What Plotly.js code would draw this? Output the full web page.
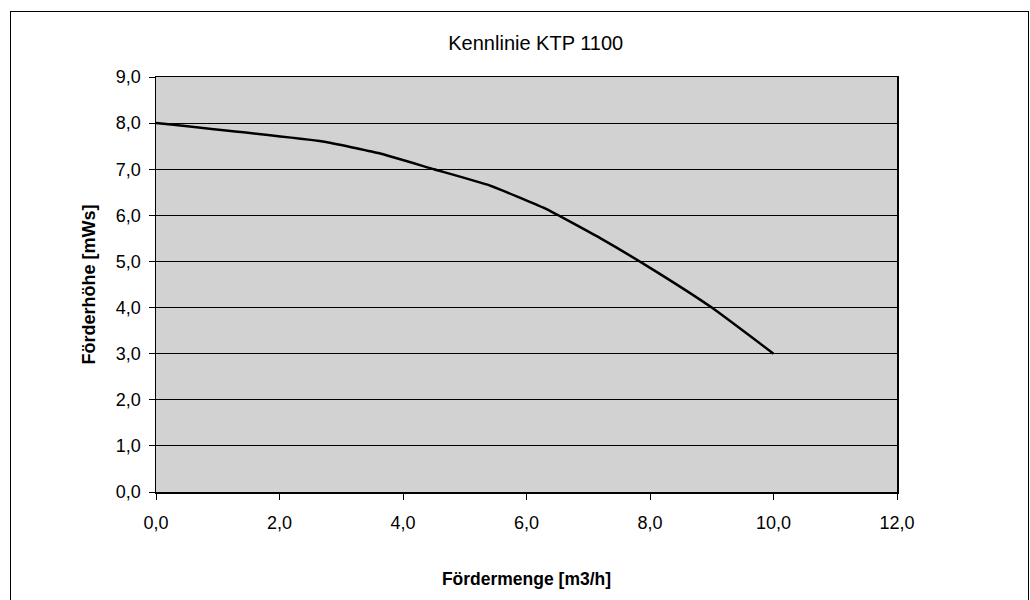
<!DOCTYPE html>
<html>
<head>
<meta charset="utf-8">
<script src="https://cdn.plot.ly/plotly-3.0.1.min.js"></script>
<style>
  html, body { margin: 0; padding: 0; background: #ffffff; }
  #frame { position: absolute; left: 10px; top: 11px; width: 1019px; height: 600px; border: 1.5px solid #000; box-sizing: border-box; pointer-events: none; z-index: 5; }
  #chart { position: absolute; left: 0; top: 0; width: 1030px; height: 600px; }
</style>
</head>
<body>
<div id="chart"></div>
<div id="frame"></div>
<script>
// Fördermenge [m3/h]
var flowValues = [0.0, 2.7, 3.6, 4.5, 5.4, 6.3, 7.2, 8.1, 9.0, 10.0];
// Förderhöhe [mWs]
var headValues = [8.0, 7.6, 7.35, 7.0, 6.65, 6.15, 5.5, 4.78, 4.0, 3.0];
var xTickValues = [0, 2, 4, 6, 8, 10, 12];
var yTickValues = [0, 1, 2, 3, 4, 5, 6, 7, 8, 9];
var chartTitle = "Kennlinie KTP 1100";
var xTitle = "Fördermenge [m3/h]";
var yTitle = "Förderhöhe [mWs]";

var trace = {
  x: flowValues,
  y: headValues,
  type: "scatter",
  mode: "lines",
  line: { color: "#000000", width: 2.5, shape: "spline", smoothing: 0.4 },
  hoverinfo: "x+y"
};

var font = "Liberation Sans, Arial, sans-serif";

var layout = {
  width: 1030,
  height: 600,
  margin: { l: 156, r: 133, t: 77, b: 108 },
  paper_bgcolor: "#ffffff",
  plot_bgcolor: "#d2d2d2",
  separators: ",.",
  showlegend: false,
  font: { family: font, color: "#000000", size: 18 },
  title: {
    text: chartTitle,
    font: { family: font, size: 20, color: "#000000" },
    x: 0.5125, xanchor: "center",
    y: 0.928, yanchor: "middle",
    xref: "paper"
  },
  xaxis: {
    range: [0, 12],
    tickvals: xTickValues,
    tickformat: ".1f",
    ticks: "outside",
    ticklen: 6,
    tickcolor: "#000",
    tickwidth: 1,
    ticklabelstandoff: 8,
    showgrid: false,
    zeroline: false,
    showline: true,
    linecolor: "#000",
    linewidth: 1.5,
    mirror: true,
    tickfont: { family: font, size: 18 },
    title: { text: "<b>" + xTitle + "</b>", font: { family: font, size: 17.5 }, standoff: 40 }
  },
  yaxis: {
    range: [0, 9],
    tickvals: yTickValues,
    tickformat: ".1f",
    ticks: "outside",
    ticklen: 6,
    tickcolor: "#000",
    tickwidth: 1,
    ticklabelstandoff: 4,
    showgrid: true,
    gridcolor: "#000",
    gridwidth: 1,
    zeroline: false,
    showline: true,
    linecolor: "#000",
    linewidth: 1.5,
    mirror: true,
    tickfont: { family: font, size: 18 },
    title: { text: "<b>" + yTitle + "</b>", font: { family: font, size: 18 }, standoff: 15 }
  }
};

Plotly.newPlot("chart", [trace], layout, { displayModeBar: false, staticPlot: true });
</script>
</body>
</html>
